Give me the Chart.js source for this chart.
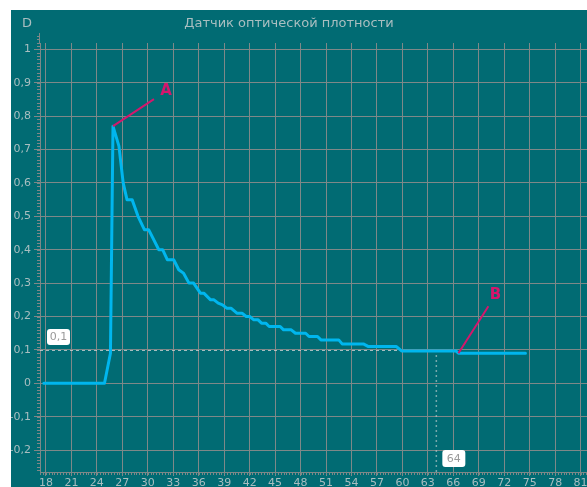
<!DOCTYPE html>
<html>
<head>
<meta charset="utf-8">
<script src="https://cdn.jsdelivr.net/npm/chart.js@4"></script>
<style>
  body { margin: 0; background: #fff; overflow: hidden; }
  #wrap { position: absolute; left: 11px; top: 10px; width: 576px; height: 477px; overflow: hidden; background: #016b73; }
  #box { position: absolute; left: 0; top: 0; width: 646px; height: 492px; }
</style>
</head>
<body>
<div id="wrap"><div id="box"><canvas id="chart"></canvas></div></div>
<script>
// time, s
var timeSec = [17.75, 24.9, 25.6, 25.9, 26.6, 27.1, 27.55, 28.15, 28.85, 29.6, 30.1, 31.3, 31.75, 32.3, 33.05, 33.65, 34.2, 34.85, 35.4, 36.2, 36.6, 37.4, 37.8, 38.3, 38.8, 39.3, 39.8, 40.5, 41.1, 41.6, 42.0, 42.5, 43.0, 43.4, 43.9, 44.3, 45.6, 46.0, 46.9, 47.4, 48.6, 49.0, 50.0, 50.4, 52.5, 52.9, 55.4, 56.0, 59.3, 59.9, 66.3, 66.6, 74.5];
// optical density D
var density = [0, 0, 0.09, 0.77, 0.71, 0.6, 0.55, 0.55, 0.5, 0.46, 0.46, 0.4, 0.4, 0.37, 0.37, 0.34, 0.33, 0.3, 0.3, 0.27, 0.27, 0.25, 0.25, 0.24, 0.235, 0.225, 0.225, 0.21, 0.21, 0.2, 0.2, 0.19, 0.19, 0.18, 0.18, 0.17, 0.17, 0.16, 0.16, 0.15, 0.15, 0.14, 0.14, 0.13, 0.13, 0.118, 0.118, 0.11, 0.11, 0.097, 0.097, 0.09, 0.09];

var xTicks = [18, 21, 24, 27, 30, 33, 36, 39, 42, 45, 48, 51, 54, 57, 60, 63, 66, 69, 72, 75, 78, 81];
var yTicks = [-0.2, -0.1, 0, 0.1, 0.2, 0.3, 0.4, 0.5, 0.6, 0.7, 0.8, 0.9, 1];

var refLevel = 0.1;   // horizontal marker
var refTime = 64;     // vertical marker
var markers = [{ name: 'A', index: 3 }, { name: 'B', index: 51 }];

var gridColor = '#7e8888';
var textColor = '#a9bec0';
var pink = '#d5166c';

Chart.defaults.font.family = 'DejaVu Sans';
Chart.defaults.font.size = 11;

function box(ctx, x, y, w, h, txt) {
  ctx.fillStyle = '#fff';
  ctx.beginPath();
  if (ctx.roundRect) ctx.roundRect(x, y, w, h, 3); else ctx.rect(x, y, w, h);
  ctx.fill();
  ctx.fillStyle = '#9a9a9a';
  ctx.font = '11px "DejaVu Sans"';
  ctx.textAlign = 'center';
  ctx.textBaseline = 'middle';
  ctx.fillText(txt, x + w / 2, y + h / 2 + 0.5);
}

var overlay = {
  id: 'overlay',
  beforeDatasetsDraw: function(chart) {
    var ctx = chart.ctx, a = chart.chartArea, x = chart.scales.x, y = chart.scales.y;
    var px = x.getPixelForValue(refTime), py = y.getPixelForValue(refLevel);
    ctx.save();
    ctx.strokeStyle = 'rgba(210,210,210,0.8)';
    ctx.lineWidth = 1;
    ctx.setLineDash([3, 3]);
    ctx.beginPath();
    ctx.moveTo(a.left, Math.round(py) + 0.5);
    ctx.lineTo(px, Math.round(py) + 0.5);
    ctx.stroke();
    ctx.strokeStyle = 'rgba(200,210,210,0.6)';
    ctx.lineWidth = 1.5;
    ctx.setLineDash([2, 3]);
    ctx.beginPath();
    ctx.moveTo(px, py + 5);
    ctx.lineTo(px, a.bottom);
    ctx.stroke();
    ctx.restore();
  },
  afterDraw: function(chart) {
    var ctx = chart.ctx, a = chart.chartArea, x = chart.scales.x, y = chart.scales.y;
    ctx.save();
    // axis extension and minor ticks
    ctx.strokeStyle = gridColor;
    ctx.lineWidth = 1;
    ctx.beginPath();
    ctx.moveTo(a.left - 0.5, a.top - 10);
    ctx.lineTo(a.left - 0.5, a.top);
    for (var k = -26; k <= 104; k++) {
      var yy = Math.round(y.getPixelForValue(k / 100)) + 0.5;
      if (yy < a.top - 10) continue;
      ctx.moveTo(a.left - 3, yy);
      ctx.lineTo(a.left, yy);
    }
    for (var j = 52; j <= 270; j++) {
      var xx = Math.round(x.getPixelForValue(j / 3)) + 0.5;
      ctx.moveTo(xx, a.bottom);
      ctx.lineTo(xx, a.bottom + 3);
    }
    ctx.stroke();

    // title and axis name
    ctx.fillStyle = textColor;
    ctx.font = '13px "DejaVu Sans"';
    ctx.textBaseline = 'middle';
    ctx.textAlign = 'center';
    ctx.fillText('Датчик оптической плотности', 278, 13.5);
    ctx.textAlign = 'left';
    ctx.fillText('D', 11, 13.5);

    // value boxes
    var py = y.getPixelForValue(refLevel), px = x.getPixelForValue(refTime);
    box(ctx, a.left + 7, py - 21, 23, 16, String(refLevel).replace('.', ','));
    box(ctx, px + 6, a.bottom - 22, 23, 17, String(refTime));

    // point markers
    var offs = { A: [41, -27, 53, -35], B: [30, -47, 37, -58] };
    markers.forEach(function(m) {
      var mx = x.getPixelForValue(timeSec[m.index]), my = y.getPixelForValue(density[m.index]);
      var o = offs[m.name];
      ctx.strokeStyle = pink;
      ctx.lineWidth = 2;
      ctx.beginPath();
      ctx.moveTo(mx, my);
      ctx.lineTo(mx + o[0], my + o[1]);
      ctx.stroke();
      ctx.fillStyle = pink;
      ctx.font = 'bold 15px "DejaVu Sans"';
      ctx.textAlign = 'center';
      ctx.fillText(m.name, mx + o[2], my + o[3]);
    });
    ctx.restore();
  }
};

var points = timeSec.map(function(t, i) { return { x: t, y: density[i] }; });

var ctx = document.getElementById('chart').getContext('2d');
var myChart = new Chart(ctx, {
  type: 'line',
  data: {
    datasets: [{
      data: points,
      borderColor: '#00b6ee',
      borderWidth: 3,
      pointRadius: 0,
      tension: 0,
      borderJoinStyle: 'round',
      borderCapStyle: 'round'
    }]
  },
  options: {
    responsive: true,
    maintainAspectRatio: false,
    animation: false,
    layout: { padding: { top: 33, left: 0, right: 0, bottom: 0 } },
    plugins: { legend: { display: false }, tooltip: { enabled: false } },
    scales: {
      x: {
        type: 'linear',
        min: 17.3,
        max: 90,
        afterBuildTicks: function(s) { s.ticks = xTicks.map(function(v) { return { value: v }; }); },
        afterFit: function(s) { s.height = 30; },
        ticks: { color: textColor, padding: 1, maxRotation: 0, autoSkip: false },
        grid: { color: gridColor, tickLength: 4 },
        border: { color: gridColor }
      },
      y: {
        min: -0.2656,
        max: 1.019,
        afterBuildTicks: function(s) { s.ticks = yTicks.map(function(v) { return { value: v }; }); },
        afterFit: function(s) { s.width = 29; },
        ticks: {
          color: textColor,
          padding: 3,
          callback: function(v) { return String(Math.round(v * 10) / 10).replace('.', ','); }
        },
        grid: { color: gridColor, tickLength: 6 },
        border: { color: gridColor }
      }
    }
  },
  plugins: [overlay]
});
</script>
</body>
</html>
